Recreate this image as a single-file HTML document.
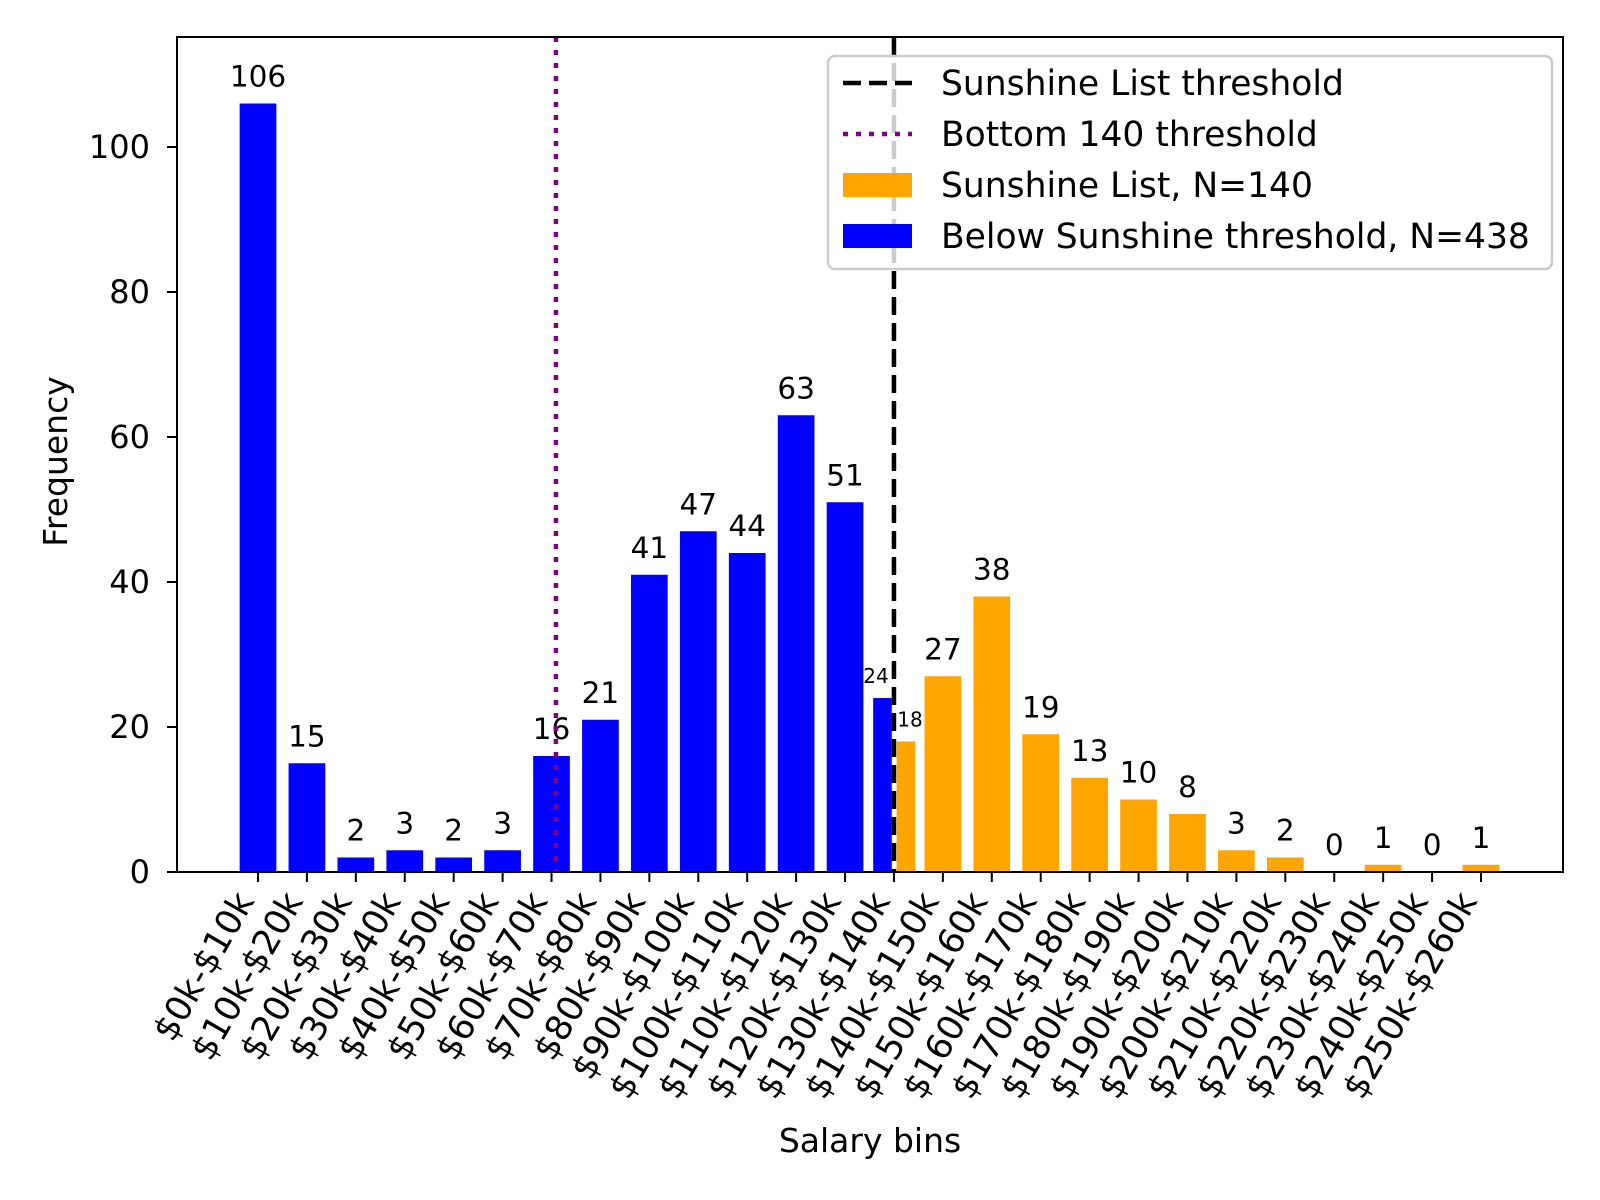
<!DOCTYPE html>
<html><head><meta charset="utf-8"><style>
html,body{margin:0;padding:0;background:#fff;}
svg{display:block;font-family:"DejaVu Sans","Liberation Sans",sans-serif;}
</style></head><body>
<svg id="chart" width="1600" height="1200" viewBox="0 0 1600 1200">
<g id="plot"></g>
</svg>
<script>
const categories = ["$0k-$10k","$10k-$20k","$20k-$30k","$30k-$40k","$40k-$50k","$50k-$60k","$60k-$70k","$70k-$80k","$80k-$90k","$90k-$100k","$100k-$110k","$110k-$120k","$120k-$130k","$130k-$140k","$140k-$150k","$150k-$160k","$160k-$170k","$170k-$180k","$180k-$190k","$190k-$200k","$200k-$210k","$210k-$220k","$220k-$230k","$230k-$240k","$240k-$250k","$250k-$260k"];
const belowValues = [106,15,2,3,2,3,16,21,41,47,44,63,51];
const splitBinIndex = 13;
const splitBelowValue = 24;
const splitSunshineValue = 18;
const sunshineValues = [27,38,19,13,10,8,3,2,0,1,0,1];
const yTicks = [0,20,40,60,80,100];
const sunshineThreshold = 13;
const bottom140Threshold = 6.09;

const NS = "http://www.w3.org/2000/svg";
const g = document.getElementById("plot");
const L=177,R=1563,T=37,B=872;
const x0=258, step=48.92;
const yPerUnit=7.25;
function xs(i){return x0+i*step;}
function ys(v){return B-v*yPerUnit;}
function mk(tag,attrs,parent){const e=document.createElementNS(NS,tag);for(const k in attrs)e.setAttribute(k,attrs[k]);(parent||g).appendChild(e);return e;}

function bar(i,v,color,offset,wBins,name){
  const w=wBins*step;
  const r=mk("rect",{x:xs(i+offset)-w/2,y:ys(v),width:w,height:v*yPerUnit,fill:color});
  
  
  return r;
}
function label(xc,v,txt,size,name){
  const t=mk("text",{x:xc,y:ys(v)-(size<25?15:17),"font-size":size,"text-anchor":"middle",fill:"#000"});
  t.textContent=txt;
  
  
}
belowValues.forEach((v,i)=>{
  bar(i,v,"#0000ff",0,0.75,"bar-below-"+i);
  label(xs(i),v,String(v),29.5,"bar-value-label");
});
bar(splitBinIndex,splitBelowValue,"#0000ff",-0.235,0.38,"bar-below-split");
label(xs(splitBinIndex)-18,splitBelowValue,String(splitBelowValue),20,"bar-value-label-small");
bar(splitBinIndex,splitSunshineValue,"#ffa500",0.245,0.38,"bar-sunshine-split");
label(xs(splitBinIndex)+16,splitSunshineValue,String(splitSunshineValue),20,"bar-value-label-small");
sunshineValues.forEach((v,k)=>{
  const i=splitBinIndex+1+k;
  bar(i,v,"#ffa500",0,0.75,"bar-sunshine-"+i);
  label(xs(i),v,String(v),29.5,"bar-value-label");
});

const bl=mk("line",{x1:xs(bottom140Threshold),x2:xs(bottom140Threshold),y1:T,y2:B,stroke:"#800080","stroke-width":4.5,"stroke-dasharray":"5,8"});


const sl=mk("line",{x1:xs(sunshineThreshold),x2:xs(sunshineThreshold),y1:T,y2:B,stroke:"#000","stroke-width":4.5,"stroke-dasharray":"18,8"});



const fr=mk("rect",{x:L,y:T,width:R-L,height:B-T,fill:"none",stroke:"#000","stroke-width":2});



yTicks.forEach(v=>{
  const tk=mk("line",{x1:L-10,x2:L,y1:ys(v),y2:ys(v),stroke:"#000","stroke-width":2});
  
  
  const t=mk("text",{x:L-27,y:ys(v)+11,"font-size":32,"text-anchor":"end"});
  t.textContent=String(v);
  
  
});
categories.forEach((c,i)=>{
  const tk=mk("line",{x1:xs(i),x2:xs(i),y1:B,y2:B+10,stroke:"#000","stroke-width":2});
  
  
  const ax=xs(i)-3, ay=B+29;
  const t=mk("text",{x:ax,y:ay,"font-size":35,"text-anchor":"end",transform:`rotate(-60 ${ax} ${ay})`});
  t.textContent=c;
  
  
});

const xt=mk("text",{x:(L+R)/2,y:1152,"font-size":33,"text-anchor":"middle"});
xt.textContent="Salary bins";


const yt=mk("text",{x:0,y:0,"font-size":33,"text-anchor":"middle",transform:`translate(67 ${(T+B)/2+7}) rotate(-90)`});
yt.textContent="Frequency";



const lg=mk("g",{});


mk("rect",{x:828,y:56,width:724,height:213,rx:7,fill:"#fff","fill-opacity":0.8,stroke:"#cccccc","stroke-width":2.5},lg);
const rows=[["line","#000","18,8","Sunshine List threshold","legend-entry-sunshine-threshold"],["line","#800080","5,8","Bottom 140 threshold","legend-entry-bottom-140"],["rect","#ffa500","","Sunshine List, N=140","legend-entry-sunshine-list"],["rect","#0000ff","","Below Sunshine threshold, N=438","legend-entry-below-sunshine"]];
const rowY=[83,134,185,236];
rows.forEach((r,k)=>{
  const e=mk("g",{},lg);
  
  
  const y=rowY[k];
  if(r[0]==="line") mk("line",{x1:843,x2:912,y1:y,y2:y,stroke:r[1],"stroke-width":4.5,"stroke-dasharray":r[2]},e);
  else mk("rect",{x:843,y:y-12,width:69,height:24,fill:r[1]},e);
  const t=mk("text",{x:941,y:y+12,"font-size":34.5},e);
  t.textContent=r[3];
});
</script>
</body></html>
